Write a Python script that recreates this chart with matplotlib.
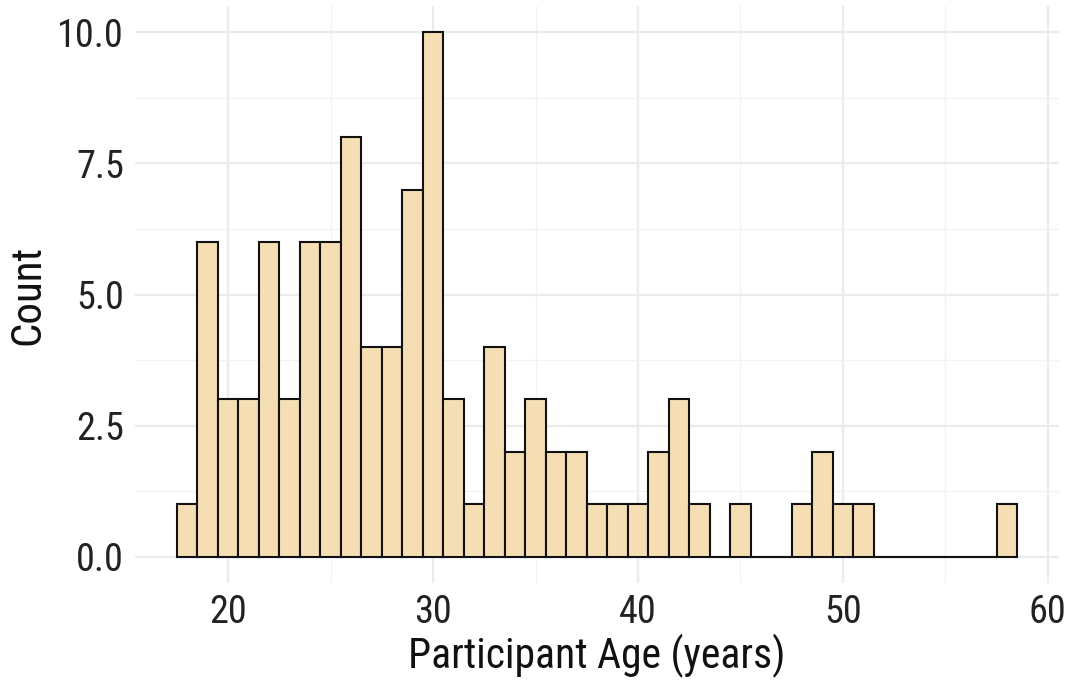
import matplotlib
matplotlib.use("Agg")
import matplotlib.pyplot as plt

# one-year bins, centred on each age
ages = list(range(18, 59))
counts = [1, 6, 3, 3, 6, 3, 6, 6, 8, 4, 4, 7, 10, 3, 1, 4, 2, 3, 2, 2,
          1, 1, 1, 2, 3, 1, 0, 1, 0, 0, 1, 2, 1, 1, 0, 0, 0, 0, 0, 0, 1]
x_ticks = [20, 30, 40, 50, 60]
y_ticks = [0.0, 2.5, 5.0, 7.5, 10.0]

plt.rcParams["font.family"] = ["Roboto Condensed", "Liberation Sans", "DejaVu Sans"]

fig = plt.figure(figsize=(10.74, 6.96), dpi=100)
ax = fig.add_axes([135 / 1074, 113 / 696, 924 / 1074, 577 / 696])

ax.bar(ages, counts, width=1.0, color="#F5DEB3", edgecolor="#111111",
       linewidth=1.5, zorder=3)

lo, hi = min(ages) - 0.5, max(ages) + 0.5
pad = (hi - lo) * 0.05
ax.set_xlim(lo - pad, hi + pad)
ax.set_ylim(-0.5, 10.5)

ax.set_xticks(x_ticks)
ax.set_xticks([25, 35, 45, 55], minor=True)
ax.set_yticks(y_ticks)
ax.set_yticks([1.25, 3.75, 6.25, 8.75], minor=True)
ax.set_yticklabels([f"{v:.1f}" for v in y_ticks])

ax.grid(True, which="major", color="#EBEBEB", linewidth=1.6, zorder=0)
ax.grid(True, which="minor", color="#F2F2F2", linewidth=0.9, zorder=0)
ax.set_axisbelow(True)
for s in ax.spines.values():
    s.set_visible(False)
ax.tick_params(which="both", length=0)
ax.tick_params(axis="both", labelsize=27.5, labelcolor="#222222", pad=8)

ax.set_xlabel("Participant Age (years)", fontsize=30, color="#111111", labelpad=2)
ax.set_ylabel("Count", fontsize=31, color="#111111", labelpad=6)

fig.savefig("out.png", dpi=100)
